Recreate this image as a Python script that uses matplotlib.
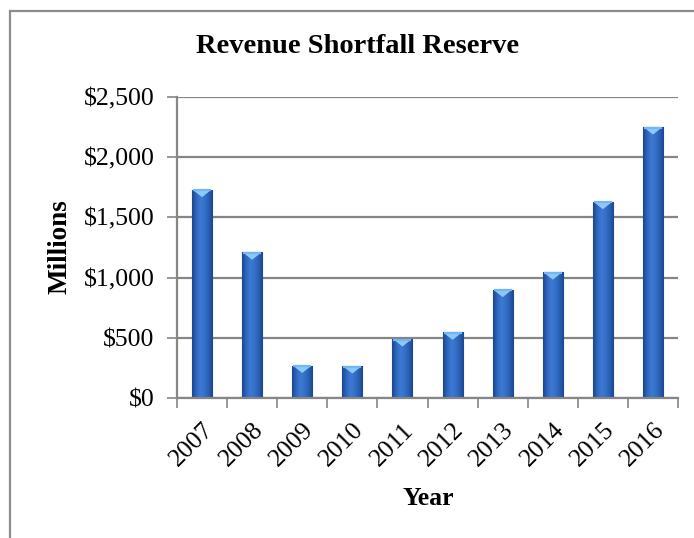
import numpy as np
import matplotlib
matplotlib.use("Agg")
import matplotlib.pyplot as plt
from matplotlib.colors import LinearSegmentedColormap
from matplotlib.patches import Rectangle

years = ["2007", "2008", "2009", "2010", "2011", "2012", "2013", "2014", "2015", "2016"]
reserve = [1730, 1210, 270, 265, 490, 545, 900, 1045, 1630, 2250]  # $ millions
y_ticks = [0, 500, 1000, 1500, 2000, 2500]
y_tick_labels = ["$0", "$500", "$1,000", "$1,500", "$2,000", "$2,500"]

plt.rcParams["font.family"] = ["Liberation Serif", "DejaVu Serif"]

fig = plt.figure(figsize=(6.94, 5.38), dpi=100)
ax = fig.add_axes([0.255, 0.2602, 0.722, 0.5595])

# outer chart frame (runs off the right and bottom edges)
fig.patches.append(Rectangle((10 / 694, -0.05), 1.2, 1 - 11 / 538 + 0.05,
                             transform=fig.transFigure, fill=False,
                             edgecolor="#8c8c8c", linewidth=1.6, zorder=0))

grid_col = "#868686"
x = np.arange(len(years))
width = 0.4
bars = ax.bar(x, reserve, width=width, color="#2f63b4", edgecolor="#1d4488",
              linewidth=0.8, zorder=3)

# horizontal shading across each bar: dark edges, lighter middle
shade = LinearSegmentedColormap.from_list(
    "barshade", ["#1b468f", "#2e66bd", "#3d7ad3", "#3571c8", "#2a60b3", "#1c4690"])
grad = np.linspace(0, 1, 64).reshape(1, -1)
for b, v in zip(bars, reserve):
    x0 = b.get_x()
    im = ax.imshow(grad, cmap=shade, aspect="auto", zorder=4,
                   extent=(x0, x0 + width, 0, v), interpolation="bicubic")
    im.set_clip_path(b)
    # light cap on the top of the bar
    ax.fill([x0 + 0.03, x0 + width - 0.03, x0 + width / 2],
            [v - 6, v - 6, v - 62], color="#8cc8f8", zorder=5, lw=0)
    ax.plot([x0 + 0.02, x0 + width - 0.02], [v - 5, v - 5], color="#74b6f0",
            lw=1.6, zorder=5, solid_capstyle="butt")

ax.set_xlim(-0.5, len(years) - 0.5)
ax.set_ylim(0, 2500)
ax.set_yticks(y_ticks)
ax.set_yticklabels(y_tick_labels, fontsize=18.5)
ax.yaxis.grid(True, color=grid_col, linewidth=1.6, zorder=1)
ax.set_axisbelow(True)

ax.set_xticks(x)
ax.set_xticklabels(years, fontsize=18.5, rotation=45, ha="right",
                   rotation_mode="anchor")
ax.set_xticks(np.arange(-0.5, len(years)), minor=True)
ax.tick_params(axis="x", which="major", length=0, pad=15)
ax.tick_params(axis="x", which="minor", length=7, width=1.2, color=grid_col)
ax.tick_params(axis="y", length=7, width=1.2, color=grid_col, pad=9)

for side in ("top", "right"):
    ax.spines[side].set_visible(False)
for side in ("left", "bottom"):
    ax.spines[side].set_color(grid_col)
    ax.spines[side].set_linewidth(1.6)
    ax.spines[side].set_zorder(6)

fig.text(0.515, 0.913, "Revenue Shortfall Reserve", ha="center", va="center",
         fontsize=20.5, fontweight="bold")
fig.text(0.0865, 0.541, "Millions", ha="center", va="center", rotation=90,
         fontsize=19.5, fontweight="bold")
fig.text(0.617, 0.074, "Year", ha="center", va="center",
         fontsize=18.5, fontweight="bold")

fig.savefig("out.png", dpi=100)
